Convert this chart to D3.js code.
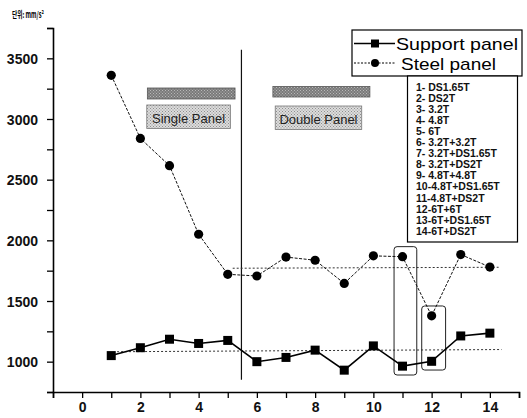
<!DOCTYPE html>
<html>
<head>
<meta charset="utf-8">
<script src="https://cdn.jsdelivr.net/npm/d3@7"></script>
<style>
  body { margin: 0; background: #fff; }
  svg { display: block; font-family: "Liberation Sans", Arial, sans-serif; }
</style>
</head>
<body>
<div id="chart"></div>
<script>
// data
const sampleNo = [1, 2, 3, 4, 5, 6, 7, 8, 9, 10, 11, 12, 13, 14];
const supportPanel = [1050, 1115, 1185, 1150, 1175, 1000, 1035, 1095, 930, 1130, 963, 1003, 1212, 1235];
const steelPanel = [3360, 2840, 2615, 2050, 1720, 1706, 1862, 1836, 1645, 1872, 1865, 1378, 1883, 1780];

// dotted average lines [x, y]
const supportAvg = [[1.2, 1082], [14.4, 1100]];
const steelAvg = [[5.17, 1770], [14.3, 1778]];

const seriesNames = ["Support panel", "Steel panel"];
const specimenList = [
  "1- DS1.65T", "2- DS2T", "3- 3.2T", "4- 4.8T", "5- 6T",
  "6- 3.2T+3.2T", "7- 3.2T+DS1.65T", "8- 3.2T+DS2T", "9- 4.8T+4.8T",
  "10-4.8T+DS1.65T", "11-4.8T+DS2T", "12-6T+6T", "13-6T+DS1.65T", "14-6T+DS2T"
];
const xTickLabels = [0, 2, 4, 6, 8, 10, 12, 14];
const yTickLabels = [1000, 1500, 2000, 2500, 3000, 3500];
const unitLabel = "단위: mm/s²";
const panelLabels = ["Single Panel", "Double Panel"];

let width = 527, height = 418;

let svg = d3.select("#chart").append("svg")
  .attr("width", width)
  .attr("height", height);

let xScale = d3.scaleLinear().domain([-1, 15]).range([53, 519]);
let yScale = d3.scaleLinear().domain([750, 3750]).range([392, 28]);

// stipple patterns for the grey boxes
let defs = svg.append("defs");
function stipple(id, base, dot) {
  let p = defs.append("pattern").attr("id", id)
    .attr("width", 3).attr("height", 3).attr("patternUnits", "userSpaceOnUse");
  p.append("rect").attr("width", 3).attr("height", 3).attr("fill", base);
  p.append("rect").attr("x", 0).attr("y", 0).attr("width", 1).attr("height", 1).attr("fill", dot);
  p.append("rect").attr("x", 1.5).attr("y", 1.5).attr("width", 1).attr("height", 1).attr("fill", dot);
}
stipple("darkStip", "#7a7a7a", "#b8b8b8");
stipple("lightStip", "#dcdcdc", "#8f8f8f");

// axes
let yAxis = d3.axisLeft(yScale)
  .tickValues(d3.range(750, 3751, 250))
  .tickSize(6)
  .tickFormat(d => yTickLabels.includes(d) ? d : "");
svg.append("g")
  .attr("transform", `translate(${xScale(-1)},0)`)
  .call(yAxis)
  .call(g => g.select(".domain").attr("stroke-width", 1.6))
  .call(g => g.selectAll("text")
    .attr("font-size", 14).attr("font-weight", "bold").attr("fill", "#111")
    .attr("x", -15).attr("dy", "0.36em"));

let xAxis = d3.axisBottom(xScale)
  .tickValues(d3.range(-1, 16, 1))
  .tickSize(6)
  .tickFormat(d => xTickLabels.includes(d) ? d : "");
svg.append("g")
  .attr("transform", `translate(0,${yScale(750)})`)
  .call(xAxis)
  .call(g => g.select(".domain").attr("stroke-width", 1.6))
  .call(g => g.selectAll("text")
    .attr("font-size", 14).attr("font-weight", "bold").attr("fill", "#111")
    .attr("y", 10));
svg.selectAll(".tick line").attr("stroke-width", 1.3);

svg.append("text")
  .attr("x", 12).attr("y", 18)
  .attr("font-size", 9).attr("font-weight", "bold")
  .attr("font-family", "'Noto Sans CJK KR', sans-serif")
  .attr("textLength", 32).attr("lengthAdjust", "spacingAndGlyphs")
  .text(unitLabel);

// single / double panel boxes
let boxes = [
  { bar: [2.24, 5.25], lab: [2.22, 5.09], barY: [88, 99], labY: [105, 128.5] },
  { bar: [6.55, 9.88], lab: [6.63, 9.6], barY: [86.5, 97], labY: [106, 129.5] }
];
boxes.forEach((b, i) => {
  svg.append("rect")
    .attr("x", xScale(b.bar[0])).attr("y", b.barY[0])
    .attr("width", xScale(b.bar[1]) - xScale(b.bar[0]))
    .attr("height", b.barY[1] - b.barY[0])
    .attr("fill", "url(#darkStip)").attr("stroke", "#555").attr("stroke-width", 0.8);
  svg.append("rect")
    .attr("x", xScale(b.lab[0])).attr("y", b.labY[0])
    .attr("width", xScale(b.lab[1]) - xScale(b.lab[0]))
    .attr("height", b.labY[1] - b.labY[0])
    .attr("fill", "url(#lightStip)").attr("stroke", "#777").attr("stroke-width", 0.8);
  svg.append("text")
    .attr("x", (xScale(b.lab[0]) + xScale(b.lab[1])) / 2)
    .attr("y", b.labY[1] - 6)
    .attr("text-anchor", "middle")
    .attr("font-size", 13).attr("fill", "#222")
    .text(panelLabels[i]);
});

// divider between single and double panels
svg.append("line")
  .attr("x1", xScale(5.47)).attr("x2", xScale(5.47))
  .attr("y1", yScale(3570)).attr("y2", yScale(850))
  .attr("stroke", "#111").attr("stroke-width", 1.2);

// average lines
let avgLine = d3.line().x(d => xScale(d[0])).y(d => yScale(d[1]));
[supportAvg, steelAvg].forEach(a => {
  svg.append("path")
    .attr("d", avgLine(a))
    .attr("fill", "none").attr("stroke", "#333")
    .attr("stroke-width", 1).attr("stroke-dasharray", "2,2");
});

// highlight boxes round 11 and 12
let hl = [
  { x: [10.71, 11.49], y: [1948, 890] },
  { x: [11.66, 12.48], y: [1459, 931] }
];
svg.selectAll(".hl")
  .data(hl)
  .enter()
  .append("rect")
  .attr("class", "hl")
  .attr("x", d => xScale(d.x[0]))
  .attr("y", d => yScale(d.y[0]))
  .attr("width", d => xScale(d.x[1]) - xScale(d.x[0]))
  .attr("height", d => yScale(d.y[1]) - yScale(d.y[0]))
  .attr("rx", 3)
  .attr("fill", "none").attr("stroke", "#222").attr("stroke-width", 1);

// series
let line = d3.line().x((d, i) => xScale(sampleNo[i])).y(d => yScale(d));

svg.append("path")
  .attr("d", line(steelPanel))
  .attr("fill", "none").attr("stroke", "#111")
  .attr("stroke-width", 1).attr("stroke-dasharray", "3,1.5");

svg.append("path")
  .attr("d", line(supportPanel))
  .attr("fill", "none").attr("stroke", "#000")
  .attr("stroke-width", 1.6);

svg.selectAll(".sq")
  .data(supportPanel)
  .enter()
  .append("rect")
  .attr("class", "sq")
  .attr("x", (d, i) => xScale(sampleNo[i]) - 4.5)
  .attr("y", d => yScale(d) - 4.5)
  .attr("width", 9).attr("height", 9)
  .attr("fill", "#000");

svg.selectAll(".dot")
  .data(steelPanel)
  .enter()
  .append("circle")
  .attr("class", "dot")
  .attr("cx", (d, i) => xScale(sampleNo[i]))
  .attr("cy", d => yScale(d))
  .attr("r", 4.6)
  .attr("fill", "#000");

// legend
let legend = svg.append("g");
legend.append("rect")
  .attr("x", 352).attr("y", 30).attr("width", 170).attr("height", 46)
  .attr("fill", "#fff").attr("stroke", "#000").attr("stroke-width", 1.2);
let legendWidths = [122, 95];
seriesNames.forEach((name, i) => {
  let y = 43.5 + i * 19.5;
  legend.append("line")
    .attr("x1", 354).attr("x2", 395).attr("y1", y).attr("y2", y)
    .attr("stroke", "#000")
    .attr("stroke-width", i == 0 ? 1.4 : 1)
    .attr("stroke-dasharray", i == 0 ? null : "2,1.5");
  if (i == 0) {
    legend.append("rect").attr("x", 371).attr("y", y - 4).attr("width", 8).attr("height", 8).attr("fill", "#000");
  } else {
    legend.append("circle").attr("cx", 375).attr("cy", y).attr("r", 4).attr("fill", "#000");
  }
  legend.append("text")
    .attr("x", i == 0 ? 396 : 401).attr("y", y + 6.5)
    .attr("font-size", 17).attr("fill", "#000")
    .attr("textLength", legendWidths[i]).attr("lengthAdjust", "spacingAndGlyphs")
    .text(name);
});

// specimen list
let list = svg.append("g");
list.append("rect")
  .attr("x", 407.5).attr("y", 76).attr("width", 110).attr("height", 166)
  .attr("fill", "#fff").attr("stroke", "#000").attr("stroke-width", 1.2);
list.selectAll("text")
  .data(specimenList)
  .enter()
  .append("text")
  .attr("x", 416)
  .attr("y", (d, i) => 90.5 + i * 11.1)
  .attr("font-size", 10.5).attr("font-weight", "bold").attr("fill", "#111")
  .text(d => d);
</script>
</body>
</html>
